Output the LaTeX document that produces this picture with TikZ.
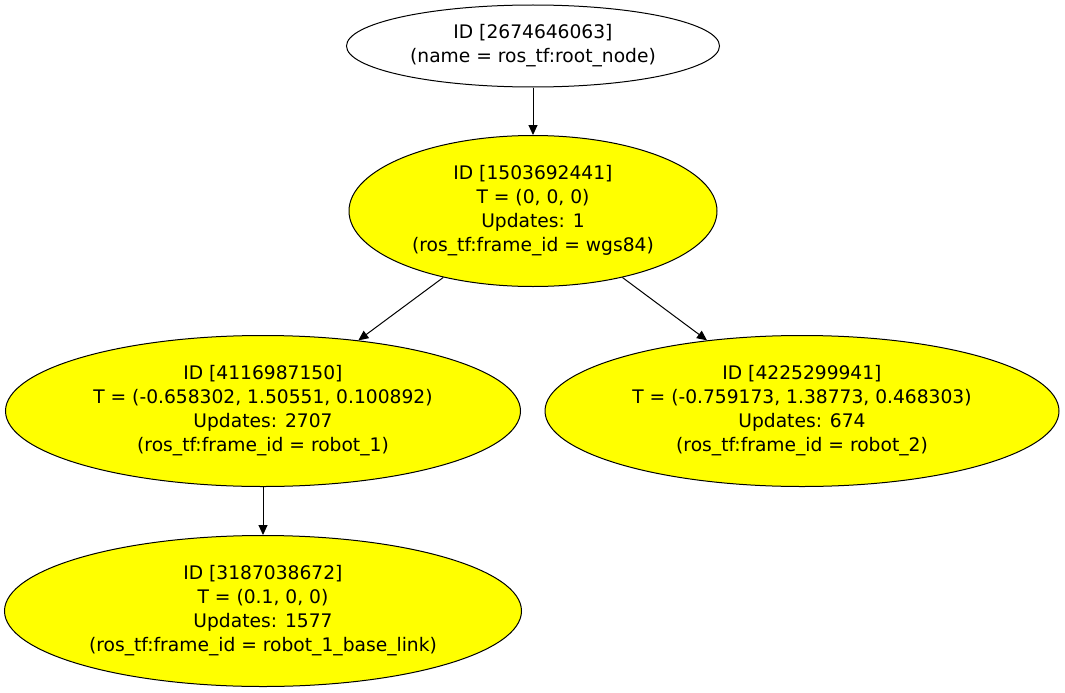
\documentclass[tikz,border=0pt]{standalone}
\usepackage{fontspec}
\setmainfont{DejaVu Sans}
\usetikzlibrary{shapes,arrows.meta,positioning}
\definecolor{tfyellow}{RGB}{255,255,0}

\begin{document}
\begin{tikzpicture}[x=1pt,y=1pt,
  frame/.style={ellipse,draw=black,line width=1pt,inner sep=0pt,align=center,font=\fontsize{18.67}{24}\selectfont},
  tfnode/.style={frame,fill=tfyellow,minimum width=516pt,minimum height=151pt},
  link/.style={-{Triangle[length=10pt,width=9pt]},line width=1pt}]
\useasboundingbox (0,0) rectangle (1065,-693);

%Root
\node[frame,minimum width=373pt,minimum height=82pt] (root) at (533,-46) {ID [2674646063]\\(name = ros\_tf:root\_node)};

%Frames
\node[tfnode,minimum width=368pt] (wgs) at (533,-211) {ID [1503692441]\\T = (0, 0, 0)\\Updates: 1\\(ros\_tf:frame\_id = wgs84)};
\node[tfnode,minimum width=515pt] (robA) at (263,-411) {ID [4116987150]\\T = (-0.658302, 1.50551, 0.100892)\\Updates: 2707\\(ros\_tf:frame\_id = robot\_1)};
\node[tfnode,minimum width=514pt] (robB) at (802,-411) {ID [4225299941]\\T = (-0.759173, 1.38773, 0.468303)\\Updates: 674\\(ros\_tf:frame\_id = robot\_2)};
\node[tfnode,minimum width=517pt] (base) at (263,-611) {ID [3187038672]\\T = (0.1, 0, 0)\\Updates: 1577\\(ros\_tf:frame\_id = robot\_1\_base\_link)};

%Links
\foreach \a/\b in {root/wgs,wgs/robA,wgs/robB,robA/base}
\draw[link] (\a) -- (\b);

\end{tikzpicture}
\end{document}
